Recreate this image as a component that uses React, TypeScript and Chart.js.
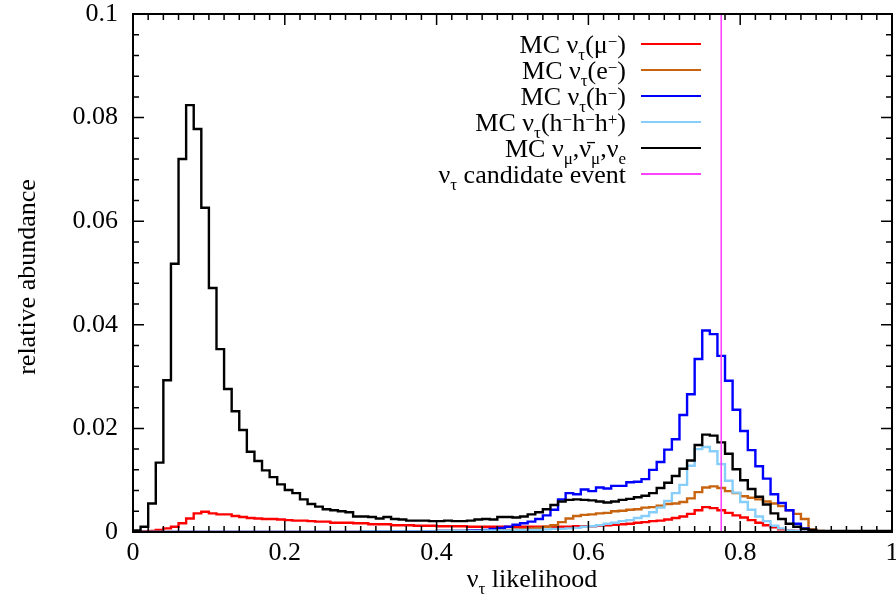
import React, { useEffect, useRef } from "react";
import { Chart, registerables } from "chart.js";

Chart.register(...registerables);

// ---------- data ----------
const BIN_WIDTH = 0.01;
const X_MIN = 0;
const X_MAX = 1;
const Y_MIN = 0;
const Y_MAX = 0.1;
const X_TICKS = [0, 0.2, 0.4, 0.6, 0.8, 1];
const Y_TICKS = [0, 0.02, 0.04, 0.06, 0.08, 0.1];
const CANDIDATE_X = 0.775;

// MC nu_tau (mu-)
const nuTauMu = [
  0, 0.0001, 0.0002, 0.0004, 0.0007, 0.001, 0.0017, 0.0026, 0.0036, 0.0039,
  0.0036, 0.0034, 0.0034, 0.0031, 0.0029, 0.0027, 0.0026, 0.0025, 0.0025, 0.0024,
  0.0023, 0.0022, 0.0022, 0.0021, 0.002, 0.002, 0.0018, 0.0018, 0.0018, 0.0017,
  0.0017, 0.0015, 0.0015, 0.0015, 0.0013, 0.0013, 0.0013, 0.0012, 0.0012, 0.0012,
  0.0011, 0.0011, 0.0011, 0.0011, 0.001, 0.001, 0.001, 0.001, 0.001, 0.001,
  0.001, 0.001, 0.001, 0.001, 0.001, 0.001, 0.001, 0.001, 0.0011, 0.0011,
  0.0011, 0.0012, 0.0013, 0.0014, 0.0015, 0.0016, 0.0018, 0.0019, 0.0021, 0.0022,
  0.0024, 0.0027, 0.003, 0.0035, 0.0042, 0.0048, 0.0046, 0.0042, 0.0037, 0.0032,
  0.0028, 0.0023, 0.0018, 0.0013, 0.0009, 0.0005, 0.0003, 0.0002, 0.0001, 0,
  0, 0, 0, 0, 0, 0, 0, 0, 0, 0,
];

// MC nu_tau (e-)
const nuTauE = [
  0, 0, 0, 0, 0, 0, 0, 0, 0, 0,
  0, 0, 0, 0, 0, 0, 0, 0, 0, 0,
  0, 0, 0, 0, 0, 0, 0, 0, 0, 0,
  0.0001, 0.0001, 0.0001, 0.0001, 0.0001, 0.0001, 0.0001, 0.0001, 0.0001, 0.0001,
  0.0002, 0.0002, 0.0002, 0.0002, 0.0002, 0.0003, 0.0003, 0.0003, 0.0004, 0.0004,
  0.0005, 0.0006, 0.0007, 0.0008, 0.001, 0.0013, 0.0019, 0.0026, 0.0031, 0.0033,
  0.0034, 0.0036, 0.0037, 0.004, 0.0041, 0.0043, 0.0044, 0.0047, 0.0048, 0.0051,
  0.0054, 0.0055, 0.0058, 0.0065, 0.0077, 0.0086, 0.0088, 0.0085, 0.0079, 0.0075,
  0.0069, 0.0066, 0.0063, 0.0059, 0.0055, 0.005, 0.0042, 0.0035, 0.0025, 0.0005,
  0.0002, 0.0001, 0.0001, 0.0001, 0.0001, 0.0001, 0.0001, 0.0001, 0.0001, 0.0001,
];

// MC nu_tau (h-)
const nuTauH = [
  0, 0, 0, 0, 0, 0, 0, 0, 0, 0,
  0, 0, 0, 0, 0, 0, 0, 0, 0, 0,
  0, 0, 0, 0, 0, 0, 0, 0, 0, 0,
  0.0001, 0.0001, 0.0001, 0.0001, 0.0001, 0.0001, 0.0001, 0.0001, 0.0001, 0.0001,
  0.0002, 0.0002, 0.0002, 0.0002, 0.0003, 0.0003, 0.0004, 0.0006, 0.0008, 0.001,
  0.0014, 0.0017, 0.002, 0.0025, 0.0032, 0.0043, 0.0063, 0.0075, 0.0073, 0.0082,
  0.0079, 0.0086, 0.0084, 0.0089, 0.0089, 0.0096, 0.0097, 0.0102, 0.012, 0.0135,
  0.0159, 0.0179, 0.0226, 0.0266, 0.0334, 0.0389, 0.0382, 0.034, 0.0292, 0.0236,
  0.0195, 0.0158, 0.0127, 0.0103, 0.0073, 0.0056, 0.0042, 0.0016, 0.0007, 0.0003,
  0.0001, 0.0001, 0.0001, 0.0001, 0.0001, 0.0001, 0.0001, 0.0001, 0.0001, 0.0001,
];

// MC nu_tau (h- h- h+)
const nuTauHHH = [
  0, 0, 0, 0, 0, 0, 0, 0, 0, 0,
  0, 0, 0, 0, 0, 0, 0, 0, 0, 0,
  0, 0, 0, 0, 0, 0, 0, 0, 0, 0,
  0.0001, 0.0001, 0.0001, 0.0001, 0.0001, 0.0001, 0.0001, 0.0001, 0.0001, 0.0001,
  0.0002, 0.0002, 0.0002, 0.0002, 0.0002, 0.0002, 0.0003, 0.0003, 0.0003, 0.0003,
  0.0004, 0.0004, 0.0004, 0.0004, 0.0005, 0.0006, 0.0006, 0.0007, 0.0008, 0.001,
  0.0011, 0.0013, 0.0016, 0.0018, 0.0021, 0.0023, 0.0027, 0.0031, 0.0038, 0.0047,
  0.006, 0.0075, 0.0091, 0.0128, 0.016, 0.0164, 0.0156, 0.0131, 0.0099, 0.0076,
  0.0058, 0.0043, 0.003, 0.0021, 0.0012, 0.0007, 0.0003, 0.0002, 0.0001, 0,
  0, 0, 0, 0, 0, 0, 0, 0, 0, 0,
];

// MC nu_mu, anti-nu_mu, nu_e
const nuMuE = [
  0.0003, 0.001, 0.0055, 0.0134, 0.0293, 0.0518, 0.072, 0.0824, 0.0778, 0.0626,
  0.0471, 0.0353, 0.0276, 0.0233, 0.0197, 0.0155, 0.0137, 0.0119, 0.0106, 0.0092,
  0.0081, 0.0075, 0.0063, 0.0054, 0.0049, 0.0044, 0.0042, 0.004, 0.0038, 0.003,
  0.003, 0.0029, 0.0026, 0.0029, 0.0025, 0.0024, 0.0022, 0.0022, 0.0022, 0.0021,
  0.0021, 0.0022, 0.0021, 0.0021, 0.0022, 0.0024, 0.0025, 0.0024, 0.0029, 0.0029,
  0.0028, 0.003, 0.0034, 0.0038, 0.0044, 0.0052, 0.0059, 0.0062, 0.0063, 0.0062,
  0.0061, 0.0059, 0.0057, 0.0059, 0.0062, 0.0064, 0.0067, 0.007, 0.0075, 0.0085,
  0.0095, 0.0108, 0.0122, 0.0138, 0.0168, 0.0188, 0.0186, 0.0173, 0.0151, 0.0121,
  0.01, 0.0083, 0.0068, 0.0053, 0.0036, 0.0025, 0.0016, 0.001, 0.0006, 0.0004,
  0.0002, 0.0002, 0.0002, 0.0002, 0.0002, 0.0002, 0.0002, 0.0002, 0.0002, 0.0002,
];

// ---------- styling ----------
const FONT = '"Liberation Serif", "Times New Roman", serif';
const COLORS = {
  mu: "#ff0000",
  e: "#c8640f",
  h: "#0000ff",
  hhh: "#87cefa",
  bg: "#000000",
  cand: "#ff44ff",
};

type Seg = { t: string; k?: "sub" | "sup" };

const LEGEND: { segs: Seg[]; color: string }[] = [
  { segs: [{ t: "MC ν" }, { t: "τ", k: "sub" }, { t: "(μ" }, { t: "−", k: "sup" }, { t: ")" }], color: COLORS.mu },
  { segs: [{ t: "MC ν" }, { t: "τ", k: "sub" }, { t: "(e" }, { t: "−", k: "sup" }, { t: ")" }], color: COLORS.e },
  { segs: [{ t: "MC ν" }, { t: "τ", k: "sub" }, { t: "(h" }, { t: "−", k: "sup" }, { t: ")" }], color: COLORS.h },
  {
    segs: [
      { t: "MC ν" }, { t: "τ", k: "sub" }, { t: "(h" }, { t: "−", k: "sup" }, { t: "h" },
      { t: "−", k: "sup" }, { t: "h" }, { t: "+", k: "sup" }, { t: ")" },
    ],
    color: COLORS.hhh,
  },
  {
    segs: [{ t: "MC ν" }, { t: "μ", k: "sub" }, { t: ",ν\u0304" }, { t: "μ", k: "sub" }, { t: ",ν" }, { t: "e", k: "sub" }],
    color: COLORS.bg,
  },
  { segs: [{ t: "ν" }, { t: "τ", k: "sub" }, { t: " candidate event" }], color: COLORS.cand },
];

const MAIN_FONT = `26px ${FONT}`;
const SMALL_FONT = `17px ${FONT}`;

function richWidth(ctx: CanvasRenderingContext2D, segs: Seg[]) {
  let w = 0;
  for (const s of segs) {
    ctx.font = s.k ? SMALL_FONT : MAIN_FONT;
    w += ctx.measureText(s.t).width;
  }
  return w;
}

function drawRich(ctx: CanvasRenderingContext2D, segs: Seg[], x: number, baseline: number) {
  let cx = x;
  ctx.textAlign = "left";
  ctx.textBaseline = "alphabetic";
  for (const s of segs) {
    ctx.font = s.k ? SMALL_FONT : MAIN_FONT;
    const dy = s.k === "sub" ? 7 : s.k === "sup" ? -6 : 0;
    ctx.fillText(s.t, cx, baseline + dy);
    cx += ctx.measureText(s.t).width;
  }
}

function toSteps(values: number[]) {
  const pts = values.map((v, i) => ({ x: i * BIN_WIDTH, y: v }));
  pts.push({ x: values.length * BIN_WIDTH, y: values[values.length - 1] });
  return pts;
}

const decorPlugin = {
  id: "decor",
  afterDatasetsDraw(chart: any) {
    const { ctx, chartArea: a, scales } = chart;
    const xs = scales.x;
    const ys = scales.y;
    ctx.save();
    ctx.strokeStyle = "#000";
    ctx.lineWidth = 1.5;
    ctx.beginPath();
    for (let k = 0; k <= 50; k++) {
      const px = xs.getPixelForValue(k * 0.02);
      const len = k % 10 === 0 ? 11 : 6;
      ctx.moveTo(px, a.bottom);
      ctx.lineTo(px, a.bottom - len);
      ctx.moveTo(px, a.top);
      ctx.lineTo(px, a.top + len);
    }
    for (let k = 0; k <= 25; k++) {
      const py = ys.getPixelForValue(k * 0.004);
      const len = k % 5 === 0 ? 11 : 6;
      ctx.moveTo(a.left, py);
      ctx.lineTo(a.left + len, py);
      ctx.moveTo(a.right, py);
      ctx.lineTo(a.right - len, py);
    }
    ctx.stroke();
    ctx.lineWidth = 2;
    ctx.strokeRect(a.left, a.top, a.right - a.left, a.bottom - a.top);

    // legend
    const textRight = 626;
    const lineX0 = 641;
    const lineX1 = 701;
    LEGEND.forEach((item, i) => {
      const ly = a.top + 30 + i * 26;
      const w = richWidth(ctx, item.segs);
      ctx.fillStyle = "#000";
      drawRich(ctx, item.segs, textRight - w, ly + 9);
      ctx.strokeStyle = item.color;
      ctx.lineWidth = 2;
      ctx.beginPath();
      ctx.moveTo(lineX0, ly);
      ctx.lineTo(lineX1, ly);
      ctx.stroke();
    });

    // x title
    const xSegs: Seg[] = [{ t: "ν" }, { t: "τ", k: "sub" }, { t: " likelihood" }];
    const xw = richWidth(ctx, xSegs);
    ctx.fillStyle = "#000";
    drawRich(ctx, xSegs, 532 - xw / 2, 587);

    // y title
    ctx.save();
    ctx.translate(35, 277);
    ctx.rotate(-Math.PI / 2);
    ctx.font = MAIN_FONT;
    ctx.textAlign = "center";
    ctx.textBaseline = "alphabetic";
    ctx.fillText("relative abundance", 0, 0);
    ctx.restore();

    ctx.restore();
  },
};

export default function App() {
  const ref = useRef<HTMLCanvasElement>(null);

  useEffect(() => {
    const canvas = ref.current;
    if (!canvas) return;
    const histo = (label: string, data: number[], color: string, order: number) => ({
      label,
      data: toSteps(data),
      borderColor: color,
      backgroundColor: color,
      borderWidth: 2.4,
      pointRadius: 0,
      stepped: "before" as const,
      fill: false,
      order,
    });
    const chart = new Chart(canvas, {
      type: "line",
      data: {
        datasets: [
          {
            label: "candidate",
            data: [
              { x: CANDIDATE_X, y: Y_MIN },
              { x: CANDIDATE_X, y: Y_MAX },
            ],
            borderColor: COLORS.cand,
            borderWidth: 1.6,
            pointRadius: 0,
            fill: false,
            order: 0,
          },
          histo("MC nu_mu, nubar_mu, nu_e", nuMuE, COLORS.bg, 1),
          histo("MC nu_tau(h-h-h+)", nuTauHHH, COLORS.hhh, 2),
          histo("MC nu_tau(h-)", nuTauH, COLORS.h, 3),
          histo("MC nu_tau(e-)", nuTauE, COLORS.e, 4),
          histo("MC nu_tau(mu-)", nuTauMu, COLORS.mu, 5),
        ] as any,
      },
      options: {
        animation: false,
        responsive: false,
        devicePixelRatio: 1,
        layout: { padding: { left: 0, right: 4, top: 14, bottom: 0 } },
        plugins: { legend: { display: false }, tooltip: { enabled: false } },
        scales: {
          x: {
            type: "linear",
            min: X_MIN,
            max: X_MAX,
            afterBuildTicks: (s: any) => {
              s.ticks = X_TICKS.map((v) => ({ value: v }));
            },
            afterFit: (s: any) => {
              s.height = 69;
              s.paddingLeft = 0;
              s.paddingRight = 0;
              s.paddingTop = 0;
              s.paddingBottom = 0;
            },
            grid: { display: false, drawTicks: false },
            border: { display: false },
            ticks: {
              color: "#000",
              font: { family: FONT, size: 26 },
              padding: 6,
              maxRotation: 0,
              autoSkip: false,
              callback: (v: any) => String(v),
            },
          },
          y: {
            type: "linear",
            min: Y_MIN,
            max: Y_MAX,
            afterBuildTicks: (s: any) => {
              s.ticks = Y_TICKS.map((v) => ({ value: v }));
            },
            afterFit: (s: any) => {
              s.width = 133;
              s.paddingLeft = 0;
              s.paddingRight = 0;
              s.paddingTop = 0;
              s.paddingBottom = 0;
            },
            grid: { display: false, drawTicks: false },
            border: { display: false },
            ticks: {
              color: "#000",
              font: { family: FONT, size: 26 },
              padding: 15,
              autoSkip: false,
              callback: (v: any) => String(v),
            },
          },
        },
      } as any,
      plugins: [decorPlugin],
    });
    return () => chart.destroy();
  }, []);

  return (
    <div style={{ position: "absolute", left: 0, top: 0, width: 896, height: 601, background: "#fff" }}>
      <canvas ref={ref} width={896} height={601} style={{ display: "block", width: 896, height: 601 }} />
    </div>
  );
}
